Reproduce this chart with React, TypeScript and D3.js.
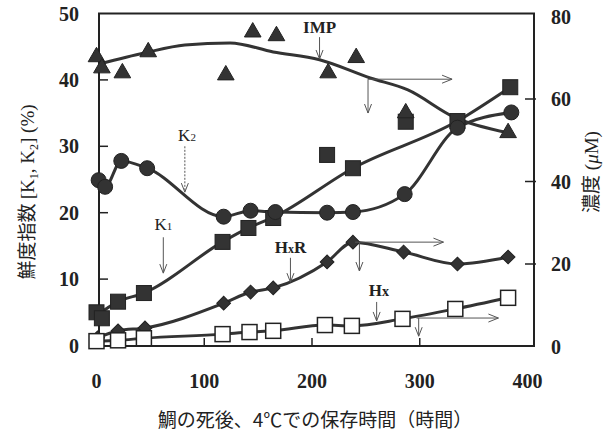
import React from "react";
import * as d3 from "d3";

// storage time (h) and values
const impT = [0, 5, 24, 48, 120, 145, 167, 215, 241, 287, 382];
const impV = [70.2, 67.5, 66.3, 71.4, 65.8, 76.2, 75.3, 66.3, 70, 56.6, 51.8];
const impFitT = [3, 45, 82, 124, 164, 207, 254, 289, 332, 382];
const impFitV = [68.5, 71.2, 73.1, 73.6, 71.4, 69.5, 65.1, 62.2, 55.6, 51.8];

const k2T = [2, 8, 23, 47, 118, 143, 166, 214, 238, 286, 335, 385];
const k2V = [24.9, 23.9, 27.8, 26.7, 19.4, 20.3, 20.1, 20, 20.1, 22.8, 32.8, 35.1];

const k1T = [0, 5, 20, 44, 117, 141, 164, 214, 238, 287, 335, 384];
const k1V = [5.0, 4.1, 6.6, 7.9, 15.6, 17.7, 19.2, 28.7, 26.7, 33.7, 33.8, 38.9];
const k1FitT = [0, 20, 44, 117, 141, 164, 238, 335, 384];
const k1FitV = [4.5, 6.6, 7.9, 15.6, 17.7, 19.3, 26.7, 33.8, 38.9];

const hxrT = [1, 20, 45, 118, 143, 164, 214, 238, 285, 335, 382];
const hxrV = [2.1, 3.8, 4.5, 10.5, 13.2, 14.2, 20.5, 25.3, 22.9, 20, 21.7];

const hxT = [0, 20, 44, 117, 142, 164, 212, 237, 284, 333, 382];
const hxV = [1.3, 1.5, 2, 3, 3.5, 3.8, 5.2, 5, 6.7, 9.1, 11.8];

const xTicks = [0, 100, 200, 300, 400];
const leftTicks = [0, 10, 20, 30, 40, 50];
const rightTicks = [0, 20, 40, 60, 80];

const INK = "#333";

export default function App() {
  const x = d3.scaleLinear().domain([0, 400]).range([96.5, 527.5]);
  const yL = d3.scaleLinear().domain([0, 50]).range([345.5, 13.5]);
  const yR = d3.scaleLinear().domain([0, 80]).range([346.5, 16.5]);

  const frame = { l: 99, r: 534, t: 13.5, b: 346 };

  const pts = (ts: number[], vs: number[]) => ts.map((t, i) => [t, vs[i]] as [number, number]);

  const lineL = d3.line<[number, number]>().x((d) => x(d[0])).y((d) => yL(d[1])).curve(d3.curveMonotoneX);
  const lineR = d3.line<[number, number]>().x((d) => x(d[0])).y((d) => yR(d[1])).curve(d3.curveMonotoneX);

  const tri = d3.symbol().type(d3.symbolTriangle).size(120)();
  const dia = d3.symbol().type(d3.symbolSquare).size(95)();

  const downArrow = (t: number, y1: number, y2: number, key: string, dash?: string) => {
    const px = x(t);
    return (
      <g key={key} stroke="#555" strokeWidth={1} fill="none">
        <line x1={px} x2={px} y1={y1} y2={y2} strokeDasharray={dash} />
        <path d={`M${px - 3.5},${y2 - 9}L${px},${y2}L${px + 3.5},${y2 - 9}`} />
      </g>
    );
  };
  const rightArrow = (t1: number, t2: number, y: number, key: string) => {
    const a = x(t1), b = x(t2);
    return (
      <g key={key} stroke="#555" strokeWidth={1} fill="none">
        <line x1={a} x2={b} y1={y} y2={y} />
        <path d={`M${b - 10},${y - 4}L${b},${y}L${b - 10},${y + 4}`} />
      </g>
    );
  };

  const serif = "'Liberation Serif', 'Times New Roman', serif";
  const cjk = "'Noto Sans CJK JP', sans-serif";

  return (
    <svg
      width={612}
      height={433}
      style={{ position: "fixed", left: 0, top: 0, background: "#fff" }}
      fontFamily={serif}
    >
      <rect width={612} height={433} fill="#fff" />
      {/* frame */}
      <rect x={frame.l} y={frame.t} width={frame.r - frame.l} height={frame.b - frame.t} fill="none" stroke="#222" strokeWidth={2} />

      {/* ticks */}
      {xTicks.slice(1, 4).map((t) => (
        <line key={"xt" + t} x1={x(t)} x2={x(t)} y1={frame.b} y2={frame.b - 8} stroke="#222" strokeWidth={1.5} />
      ))}
      {leftTicks.slice(1, 5).map((v) => (
        <line key={"lt" + v} x1={frame.l} x2={frame.l + 9} y1={yL(v)} y2={yL(v)} stroke="#222" strokeWidth={1.5} />
      ))}
      {rightTicks.slice(1, 4).map((v) => (
        <line key={"rt" + v} x1={frame.r - 9} x2={frame.r + 2} y1={yR(v)} y2={yR(v)} stroke="#222" strokeWidth={1.5} />
      ))}

      {/* tick labels */}
      <g fontWeight="bold" fontSize={20} fill="#222">
        {xTicks.map((t) => (
          <text key={"xl" + t} x={x(t)} y={388} textAnchor="middle">{t}</text>
        ))}
        {leftTicks.map((v) => (
          <text key={"ll" + v} x={79} y={yL(v)} dy="0.35em" textAnchor="end">{v}</text>
        ))}
        {rightTicks.map((v) => (
          <text key={"rl" + v} x={551} y={yR(v)} dy="0.35em" textAnchor="start">{v}</text>
        ))}
      </g>

      {/* lines */}
      <g fill="none" stroke={INK} strokeWidth={3} strokeLinejoin="round">
        <path d={lineR(pts(impFitT, impFitV)) || ""} />
        <path d={lineL(pts(k2T, k2V)) || ""} />
        <path d={lineL(pts(k1FitT, k1FitV)) || ""} />
        <path d={lineR(pts(hxrT, hxrV)) || ""} />
        <path d={lineR(pts(hxT, hxV)) || ""} />
      </g>

      {/* markers */}
      <g fill={INK} stroke="#222" strokeWidth={1}>
        {pts(hxrT, hxrV).map(([t, v], i) => (
          <path key={"d" + i} d={dia || ""} transform={`translate(${x(t)},${yR(v)}) rotate(45)`} />
        ))}
        {pts(hxT, hxV).map(([t, v], i) => (
          <rect key={"o" + i} x={x(t) - 7.5} y={yR(v) - 7.5} width={15} height={15} fill="#fff" stroke="#222" strokeWidth={1.5} />
        ))}
        {pts(k1T, k1V).map(([t, v], i) => (
          <rect key={"s" + i} x={x(t) - 7.5} y={yL(v) - 7.5} width={15} height={15} />
        ))}
        {pts(impT, impV).map(([t, v], i) => (
          <path key={"t" + i} d={tri || ""} transform={`translate(${x(t)},${yR(v)})`} />
        ))}
        {pts(k2T, k2V).map(([t, v], i) => (
          <circle key={"c" + i} cx={x(t)} cy={yL(v)} r={7.5} />
        ))}
      </g>

      {/* annotations */}
      <g fill="#222">
        <text x={x(207)} y={yR(76)} textAnchor="middle" fontSize={17} fontWeight="bold">IMP</text>
        <text x={x(84)} y={yL(30.8)} textAnchor="middle" fontSize={17}>
          K<tspan fontSize={11}>2</tspan>
        </text>
        <text x={x(62)} y={yL(17.4)} textAnchor="middle" fontSize={17}>
          K<tspan fontSize={11}>1</tspan>
        </text>
        <text x={x(180)} y={yR(22.7)} textAnchor="middle" fontSize={17} fontWeight="bold">
          H<tspan fontSize={12}>x</tspan>R
        </text>
        <text x={x(262)} y={yR(12.2)} textAnchor="middle" fontSize={17} fontWeight="bold">
          H<tspan fontSize={14}>x</tspan>
        </text>
      </g>
      {downArrow(207, yR(75), yR(69.7), "a1")}
      {rightArrow(252, 330, yR(64.8), "a2")}
      {downArrow(252, yR(64.8), yR(56.6), "a3")}
      {downArrow(82, yL(30), yL(23.1), "a4", "2,1.5")}
      {downArrow(62, yL(16.3), yL(10.9), "a5")}
      {downArrow(180, yR(21.5), yR(15.6), "a6")}
      {rightArrow(240, 322, yR(25.3), "a7")}
      {downArrow(244, yR(25.3), yR(18.3), "a8")}
      {downArrow(260, yR(10.8), yR(6.2), "a9")}
      {rightArrow(297, 373, yR(6.9), "a10")}
      {downArrow(299, yR(6.9), yR(2.5), "a11")}

      {/* axis titles */}
      <text x={315} y={427} textAnchor="middle" fontSize={19} fontFamily={cjk} fill="#222">
        鯛の死後、4℃での保存時間（時間）
      </text>
      <text transform="translate(34,192) rotate(-90)" textAnchor="middle" fontSize={19} fill="#222">
        <tspan fontFamily={cjk}>鮮度指数 </tspan>
        <tspan>[K</tspan>
        <tspan fontSize={12} dy={4}>1</tspan>
        <tspan dy={-4}>, K</tspan>
        <tspan fontSize={12} dy={4}>2</tspan>
        <tspan dy={-4}>]  (%)</tspan>
      </text>
      <text transform="translate(598,172) rotate(-90)" textAnchor="middle" fontSize={19} fill="#222">
        <tspan fontFamily={cjk}>濃度</tspan>
        <tspan> (</tspan>
        <tspan fontStyle="italic">μ</tspan>
        <tspan>M)</tspan>
      </text>
    </svg>
  );
}
